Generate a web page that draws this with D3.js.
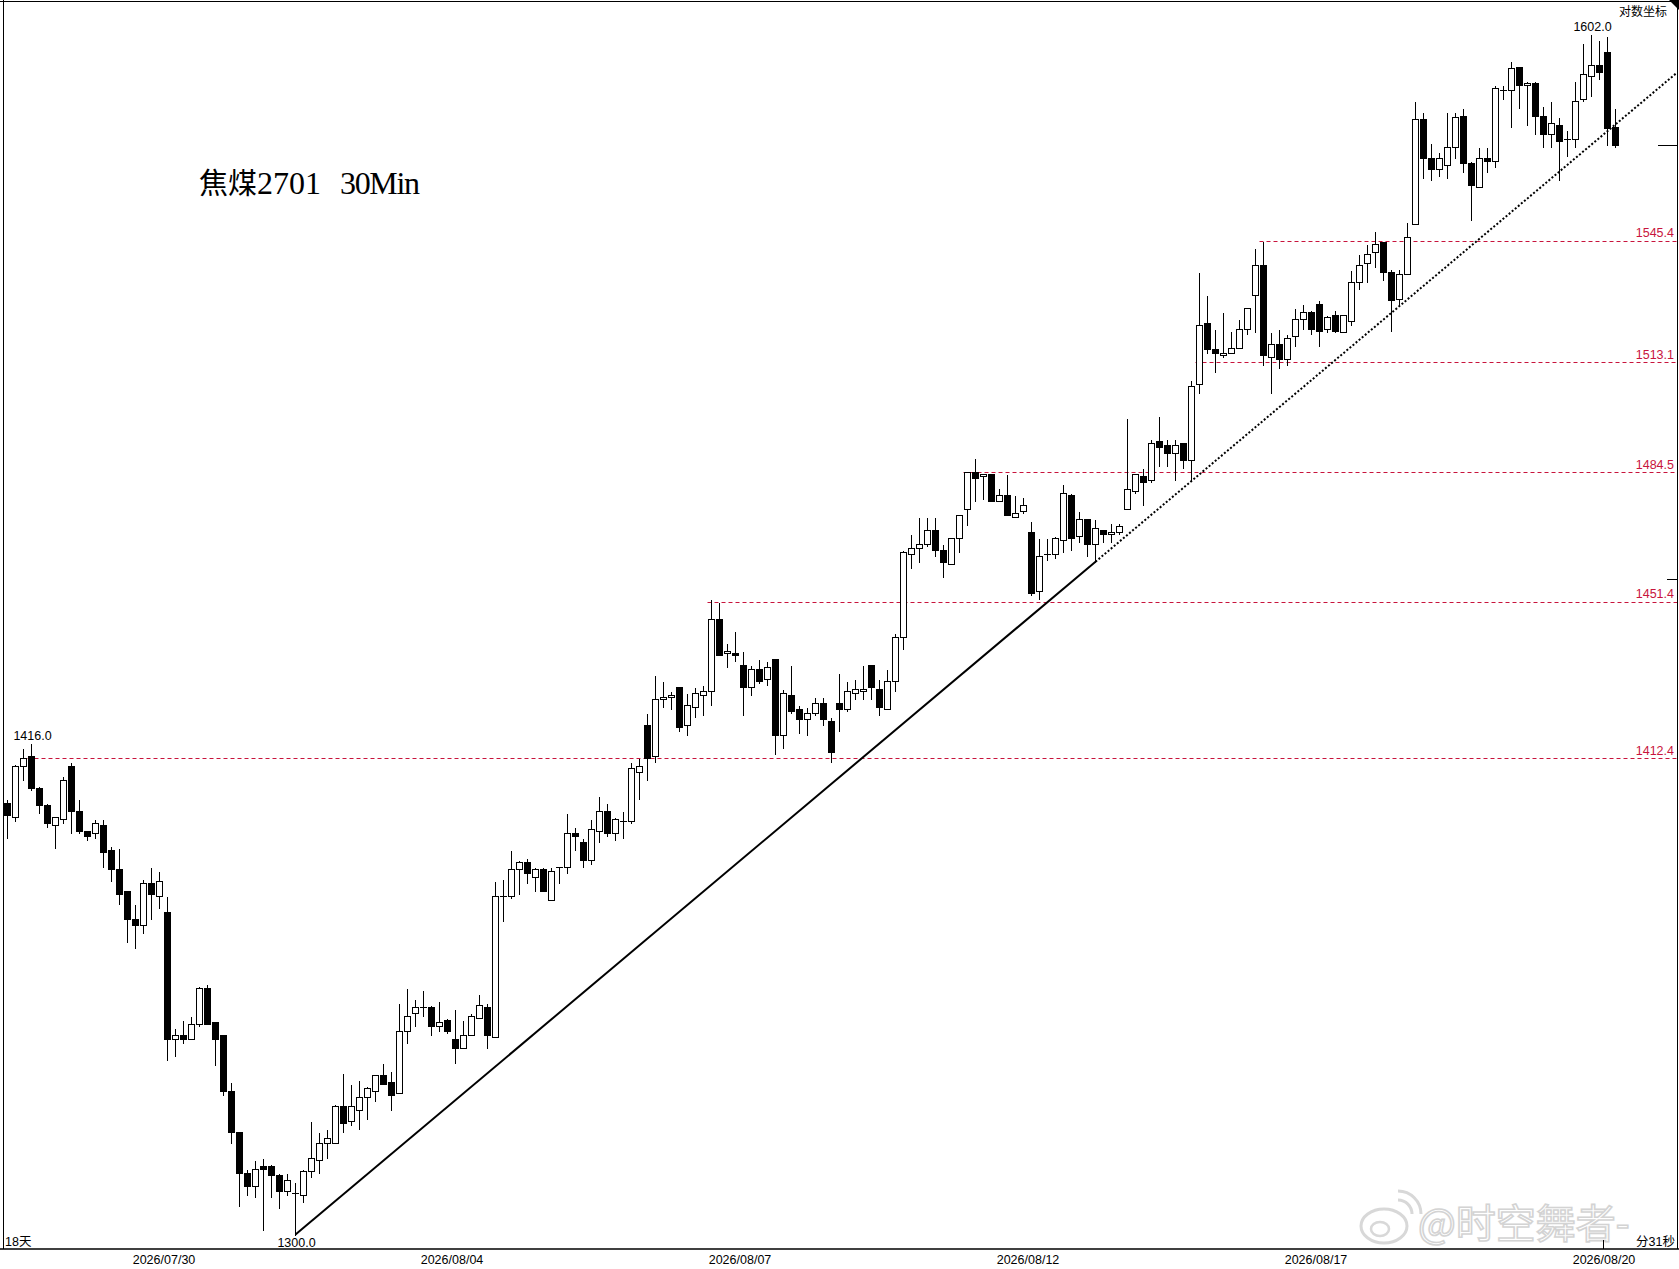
<!DOCTYPE html>
<html>
<head>
<meta charset="utf-8">
<script src="https://cdn.jsdelivr.net/npm/d3@7/dist/d3.min.js"></script>
<style>
  body { margin: 0; background: #fff; }
  svg { display: block; }
</style>
</head>
<body>
<svg id="chart"></svg>
<script>
// 焦煤2701 30分钟K线
const open = [
  1401.5,1398,1410.5,1413,1405,1401,1396,1397.5,1410.5,1399.5,1394.5,1394,1396,1390,1385.5,1380,1373.5,1372,1382,1379,
  1375,1345,1346,1345,1348.5,1357,1349,1346,1333,1323.5,1314,1311,1315.5,1315.5,1313.5,1310,1309.5,1309,1314.5,1317,
  1321,1321,1329.5,1326,1328.5,1331.5,1333,1336.5,1335,1332.5,1347,1351,1352.5,1352.5,1348,1349.5,1345,1343,1346,1350,
  1352.5,1345.5,1379,1379,1385.5,1387,1383.5,1385.5,1378,1386,1386,1394,1392,1387.5,1394.5,1399.5,1394,1397,1397,1409,
  1420.5,1413,1427,1427.5,1430,1420.5,1425,1428,1429,1447,1438.5,1438.5,1435.5,1430,1434.5,1432,1437,1418,1428,1424.5,
  1422,1423.5,1426,1421.5,1426,1424.5,1428.5,1429,1435.5,1429.5,1424.5,1431.5,1442.5,1463.5,1465,1466,1469.5,1464.5,1461,1467.5,
  1475,1484.5,1483.5,1484,1477,1478.5,1473,1474.5,1469,1454,1463.5,1463.5,1467,1478.5,1468,1472.5,1466,1469.5,1468.5,1469,
  1475,1479.5,1483.5,1482.5,1492.5,1491.5,1489.5,1492,1487.5,1507.5,1523.5,1516.5,1515,1515.5,1517,1522,1531,1539,1514.5,1518,
  1514,1520,1524.5,1526.5,1528.5,1522,1525.5,1521,1524,1534.5,1539.5,1542.5,1545,1537,1530,1536.5,1550,1578.5,1568,1565,
  1566,1571,1579.5,1566.5,1560,1568,1567,1586.5,1586.5,1593,1588,1588.5,1579.5,1574.5,1577,1573,1573,1584,1590.5,1593.5,
  1597,1576.5
];
const high = [
  1402.5,1411,1415,1416,1405.5,1401.5,1398,1408,1411.5,1402.5,1394.5,1397.5,1397.5,1391,1390.5,1380,1377,1383,1386,1385,
  1379,1347.5,1349.5,1350.5,1357.5,1358,1349,1346,1335,1323.5,1315,1317,1317.5,1316,1314,1314,1312,1315,1326,1323.5,
  1324,1330,1337,1334.5,1335.5,1334,1336.5,1339.5,1337.5,1353.5,1357,1354.5,1356.5,1353,1354,1350,1352,1349.5,1351,1355.5,
  1353.5,1382.5,1383,1390,1387.5,1388,1386,1386,1386,1386,1399,1395.5,1393,1397.5,1403,1401.5,1398,1399.5,1411.5,1412.5,
  1423.5,1433,1431.5,1429,1430,1428.5,1430,1430.5,1452,1451.4,1441,1444,1439,1435.5,1437,1436.5,1437,1429.5,1435.5,1425.5,
  1425,1427.5,1427.5,1422.5,1433.5,1431.5,1432,1435.5,1435.5,1432,1434.5,1443.5,1464.5,1468.5,1473,1473,1473,1466,1467.5,1473.5,
  1484.5,1488,1484,1484,1480.5,1484,1478.5,1478,1472,1467.5,1467.5,1468,1481.5,1479,1474.5,1472.5,1472.5,1469.5,1471.5,1471.5,
  1498.5,1484,1485.5,1493,1499,1493,1493,1492,1508.5,1537,1531,1522,1526.5,1521.5,1524.5,1527.5,1543.5,1545.4,1521,1522,
  1520.5,1527.5,1528.5,1527,1529.5,1525.5,1527,1525.5,1537.5,1542,1544.5,1548,1545,1538,1538,1550.5,1583.5,1580.5,1572,1569.5,
  1580.5,1580.5,1581.5,1567,1571,1571,1588,1588,1594.5,1593,1589,1589,1582,1583.5,1579,1575.5,1589,1599.5,1602,1600.5,
  1601.5,1581.5
];
const low = [
  1393,1397,1407,1404.5,1399,1395.5,1390.5,1396.5,1394,1394,1392.5,1393,1386,1382.5,1377,1368,1366.5,1370,1373.5,1376,
  1340,1341,1344,1345,1348,1348.5,1339,1332,1321,1306.5,1309,1308.5,1301,1308.5,1306,1309,1300,1307.5,1313,1314,
  1317.5,1321,1323.5,1325,1324,1326.5,1330.5,1334.5,1328.5,1332.5,1344,1348,1350.5,1346,1347,1346.5,1339.5,1343,1346,1350,
  1343,1345.5,1373,1378.5,1379.5,1382,1380,1380,1378,1382,1384.5,1390,1386,1386.5,1392,1393.5,1392.5,1393,1396.5,1402.5,
  1407,1411.5,1425,1424.5,1419,1418,1422.5,1423,1425.5,1438,1435,1436.5,1423,1428,1431,1430.5,1413.5,1415,1423.5,1418.5,
  1418,1423,1420.5,1411.5,1419,1424,1427,1427,1427,1423,1424.5,1429,1439.5,1460,1461.5,1465.5,1463,1457.5,1461,1464,
  1471,1477,1477.5,1477,1477,1473.5,1473,1474,1453,1452,1462,1462.5,1464,1464.5,1466.5,1463,1461.5,1466.5,1466.5,1468.5,
  1475,1479,1476,1482,1486,1486,1482.5,1485.5,1482.5,1505,1515.5,1510.5,1514.5,1515.5,1517,1520.5,1521,1512.5,1505,1511.5,
  1512.5,1517.5,1522,1520.5,1517.5,1521,1521,1521,1523,1532.5,1534.5,1538.5,1535,1521.5,1528,1536.5,1550,1562.5,1562,1563,
  1562.5,1568,1564,1551,1560,1564,1565.5,1584,1576.5,1581.5,1577,1574.5,1571,1571,1562,1568.5,1571,1583.5,1585,1589.5,
  1571.5,1571
];
const close = [
  1398.5,1410.5,1412.5,1405,1401,1396.5,1398,1407,1399.5,1394.5,1393.5,1396.5,1389.5,1385.5,1379.5,1373.5,1372,1382,1379.5,1382.5,
  1345,1346,1345,1348.5,1357,1348.5,1345,1333,1323.5,1314,1311,1315,1315,1313.5,1310,1312.5,1309.5,1314.5,1317.5,1321,
  1322,1329.5,1325.5,1329.5,1331.5,1333.5,1336.5,1334.5,1332,1347,1350.5,1352.5,1352.5,1348,1349,1347,1343,1346,1350.5,1353,
  1346,1379,1379,1385.5,1387,1384.5,1385.5,1380,1385,1386,1394,1393.5,1387.5,1395,1399.5,1394,1397.5,1397,1410,1410.5,
  1412.5,1427,1427.5,1428,1420,1425.5,1428.5,1429,1447,1438,1439,1438,1430,1434.5,1431.5,1435,1418,1428.5,1424,1422,
  1423.5,1426,1422,1414,1424.5,1429,1429.5,1429.5,1430,1425,1431.5,1442.5,1464,1465,1466,1469.5,1464.5,1461.5,1467.5,1473.5,
  1484.5,1483,1484,1477,1478.5,1473.5,1474,1476,1453.5,1463,1463.5,1467.5,1479,1467.5,1472.5,1466,1470,1468.5,1469,1470.5,
  1480,1484,1482,1492,1491,1489.5,1491.5,1487.5,1507,1523,1516.5,1515.5,1515.5,1517,1522,1527.5,1539,1515,1518,1514,
  1519.5,1524.5,1526.5,1522,1521.5,1525,1521.5,1525.5,1534.5,1539,1542,1544.5,1537,1529.5,1536.5,1546.5,1578.5,1568,1565,1568,
  1571,1579,1566.5,1560.5,1568,1567,1587,1586.5,1592.5,1588,1588.5,1579.5,1574.5,1577.5,1572.5,1573,1583.5,1591,1593.5,1591.5,
  1576,1571.5
];

// 日期刻度：每个交易日第一根K线的序号
const dayLabels = ["2026/07/30", "2026/08/04", "2026/08/07", "2026/08/12", "2026/08/17", "2026/08/20"];
const dayStart = [20, 56, 92, 128, 164, 200];

// 手画的水平压力/支撑线：价位与起点K线
const levels = [1412.4, 1451.4, 1484.5, 1513.1, 1545.4];
const levelFrom = [3, 88, 120, 149, 157];

// 趋势线的两个锚点 [K线序号, 价格]
const trendA = [36, 1300.0];
const trendB = [136, 1461.5];

// 右侧价格标记
const lastPrice = 1571.5;
const sideMark = 1457.0;

// 图上标注的极值K线
const markedHighs = [3, 198];
const markedLows = [36];

const W = 1679, H = 1269;
const n = close.length;
const red = "#c8143c";
const fmt = d3.format(".1f");

const svg = d3.select("#chart").attr("width", W).attr("height", H);
svg.append("rect").attr("width", W).attr("height", H).attr("fill", "#fff");

const x = d3.scaleBand()
  .domain(d3.range(n))
  .range([2.7, 2.7 + n * 8])
  .paddingInner(0.25)
  .paddingOuter(0.125);
const cx = i => Math.round(x(i) + x.bandwidth() / 2) + 0.5;

const y = d3.scaleLog().domain([1300, 1602]).range([1234.6, 34.3]);
const py = v => Math.round(y(v)) + 0.5;

// frame
const frame = svg.append("g").attr("stroke", "#000").attr("fill", "none");
frame.append("line").attr("x1", 0).attr("x2", W).attr("y1", 1.5).attr("y2", 1.5);
frame.append("line").attr("x1", 3.5).attr("x2", 3.5).attr("y1", 0).attr("y2", 1249);
frame.append("line").attr("x1", W - 1.5).attr("x2", W - 1.5).attr("y1", 0).attr("y2", 1249);
frame.append("line").attr("x1", 0).attr("x2", W).attr("y1", 1249).attr("y2", 1249).attr("stroke-width", 1.5);
svg.append("path").attr("d", `M${W - 10},0L${W},0L${W},10Z`).attr("fill", "#000");

// watermark
const wm = svg.append("g").attr("opacity", 0.9);
wm.append("ellipse").attr("cx", 1384).attr("cy", 1226).attr("rx", 23).attr("ry", 17)
  .attr("fill", "#fff").attr("stroke", "#d4d4d4").attr("stroke-width", 3);
wm.append("ellipse").attr("cx", 1380).attr("cy", 1229).attr("rx", 9).attr("ry", 7)
  .attr("fill", "none").attr("stroke", "#d4d4d4").attr("stroke-width", 2.5);
wm.append("path").attr("d", "M1398,1200a14,14 0 0 1 14,14M1398,1191a23,23 0 0 1 23,23")
  .attr("fill", "none").attr("stroke", "#d4d4d4").attr("stroke-width", 3);
wm.append("text").attr("x", 1418).attr("y", 1238)
  .attr("font-family", "'Noto Sans CJK SC', sans-serif").attr("font-size", 40)
  .attr("fill", "#fff").attr("stroke", "#cfcfcf").attr("stroke-width", 1.6)
  .text("@时空舞者-");

// horizontal levels
const lv = svg.append("g");
lv.selectAll("line").data(levels).join("line")
  .attr("x1", (d, i) => cx(levelFrom[i]) - 4).attr("x2", W - 2)
  .attr("y1", d => py(d)).attr("y2", d => py(d))
  .attr("stroke", red).attr("stroke-dasharray", "4,3");
lv.selectAll("text").data(levels).join("text")
  .attr("x", W - 5).attr("y", d => y(d) - 3.5)
  .attr("text-anchor", "end").attr("fill", red)
  .attr("font-family", "'Liberation Sans', Arial, sans-serif").attr("font-size", 12.5)
  .text(d => fmt(d));

// trend line
const ax = cx(trendA[0]), ay = y(trendA[1]);
const bx = cx(trendB[0]), by = y(trendB[1]);
const slope = (by - ay) / (bx - ax);
const ex = W - 2, ey = by + slope * (ex - bx);
svg.append("line").attr("x1", ax).attr("y1", ay).attr("x2", bx).attr("y2", by)
  .attr("stroke", "#000").attr("stroke-width", 2);
svg.append("line").attr("x1", bx).attr("y1", by).attr("x2", ex).attr("y2", ey)
  .attr("stroke", "#000").attr("stroke-width", 2).attr("stroke-dasharray", "2,2");

// candles
const candles = svg.append("g").attr("shape-rendering", "crispEdges");
const bar = candles.selectAll("g").data(d3.range(n)).join("g");
bar.append("line")
  .attr("x1", cx).attr("x2", cx)
  .attr("y1", i => py(high[i])).attr("y2", i => py(low[i]))
  .attr("stroke", "#000");
bar.filter(i => open[i] !== close[i]).append("rect")
  .attr("x", i => cx(i) - 3)
  .attr("width", 6)
  .attr("y", i => py(Math.max(open[i], close[i])))
  .attr("height", i => Math.max(1, py(Math.min(open[i], close[i])) - py(Math.max(open[i], close[i]))))
  .attr("fill", i => close[i] > open[i] ? "#fff" : "#000")
  .attr("stroke", "#000");
bar.filter(i => open[i] === close[i]).append("line")
  .attr("x1", i => cx(i) - 3.5).attr("x2", i => cx(i) + 3.5)
  .attr("y1", i => py(close[i])).attr("y2", i => py(close[i]))
  .attr("stroke", "#000");

// extreme labels
const lab = svg.append("g")
  .attr("font-family", "'Liberation Sans', Arial, sans-serif").attr("font-size", 12.5)
  .attr("text-anchor", "middle").attr("fill", "#000");
lab.selectAll("text.hi").data(markedHighs).join("text").attr("class", "hi")
  .attr("x", i => cx(i) + 1).attr("y", i => y(high[i]) - 3)
  .text(i => fmt(high[i]));
lab.selectAll("text.lo").data(markedLows).join("text").attr("class", "lo")
  .attr("x", i => cx(i) + 1).attr("y", i => y(low[i]) + 12)
  .text(i => fmt(low[i]));

// right side marks
svg.append("line").attr("x1", 1658).attr("x2", W - 2)
  .attr("y1", py(lastPrice)).attr("y2", py(lastPrice)).attr("stroke", "#000");
svg.append("line").attr("x1", 1667).attr("x2", W - 2)
  .attr("y1", py(sideMark)).attr("y2", py(sideMark)).attr("stroke", "#000");

// time axis
const xDay = d3.scaleOrdinal(dayLabels, dayStart.map(b => cx(b) - 4));
const axis = svg.append("g").attr("transform", "translate(0,1249)")
  .call(d3.axisBottom(xDay).tickSize(0).tickPadding(6).tickSizeOuter(0));
axis.select(".domain").remove();
axis.selectAll("text")
  .attr("font-family", "'Liberation Sans', Arial, sans-serif").attr("font-size", 12.5)
  .attr("fill", "#000");
svg.append("line").attr("x1", cx(dayStart[5]) - 4).attr("x2", cx(dayStart[5]) - 4)
  .attr("y1", 1240).attr("y2", 1249).attr("stroke", "#000");

// corner texts
const txt = svg.append("g").attr("font-size", 12.5).attr("fill", "#000")
  .attr("font-family", "'Liberation Sans', 'Noto Sans CJK SC', sans-serif");
txt.append("text").attr("x", 5).attr("y", 1246).text("18天");
txt.append("text").attr("x", W - 4).attr("y", 1246).attr("text-anchor", "end").text("分31秒");
txt.append("text").attr("x", W - 12).attr("y", 16).attr("text-anchor", "end")
  .attr("font-family", "'Noto Sans CJK SC', sans-serif").attr("font-size", 12).text("对数坐标");

// title
const title = svg.append("text").attr("x", 199).attr("y", 194).attr("fill", "#000")
  .attr("font-family", "'Liberation Serif', serif").attr("font-size", 32);
title.append("tspan").attr("font-family", "'Noto Sans CJK SC', sans-serif")
  .attr("font-size", 29).text("焦煤");
title.append("tspan").attr("x", 257).text("2701");
title.append("tspan").attr("x", 340).attr("textLength", 80).text("30Min");
</script>
</body>
</html>
